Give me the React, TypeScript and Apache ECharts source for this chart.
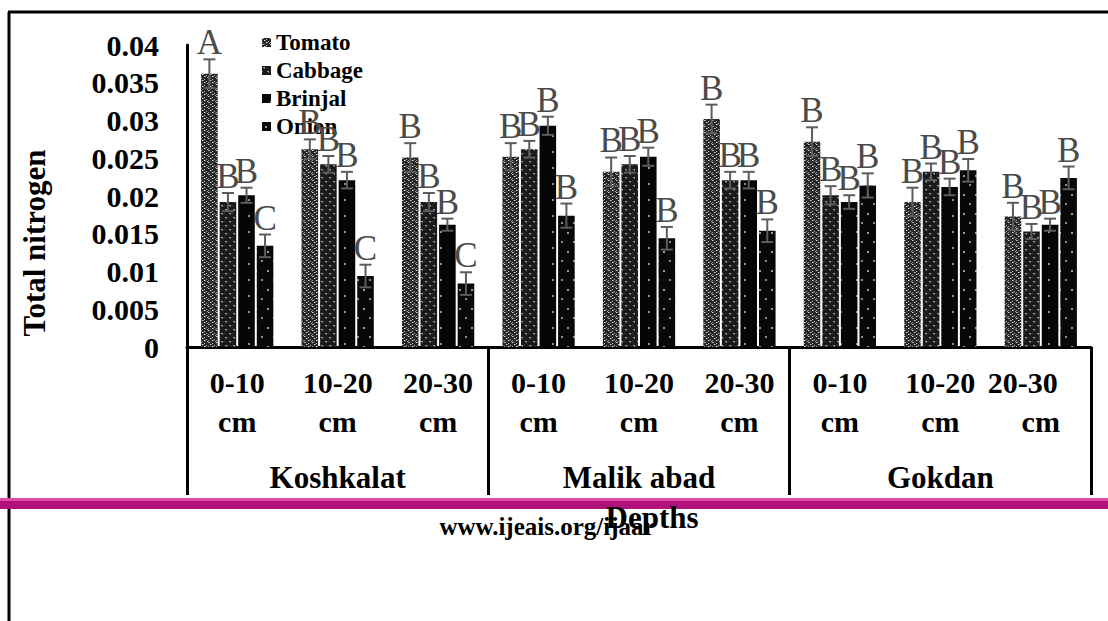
import React, { useEffect, useRef } from 'react';
import * as echarts from 'echarts';

const regions = ['Koshkalat', 'Malik abad', 'Gokdan'];
const depths = ['0-10 cm', '10-20 cm', '20-30 cm'];
const categories = regions.flatMap(() => depths);
const yTicks = [0, 0.005, 0.01, 0.015, 0.02, 0.025, 0.03, 0.035, 0.04];

const seriesNames = ['Tomato', 'Cabbage', 'Brinjal', 'Onion'];
const tomato = [0.0362, 0.0262, 0.0251, 0.0252, 0.0232, 0.0302, 0.0272, 0.0192, 0.0173];
const cabbage = [0.0192, 0.0242, 0.0192, 0.0262, 0.0242, 0.0221, 0.0201, 0.0232, 0.0153];
const brinjal = [0.0201, 0.0221, 0.0162, 0.0293, 0.0252, 0.0221, 0.0192, 0.0212, 0.0162];
const onion = [0.0134, 0.0094, 0.0084, 0.0174, 0.0144, 0.0154, 0.0214, 0.0234, 0.0224];
const tomatoErr = [0.0019, 0.0013, 0.0019, 0.0018, 0.0019, 0.0019, 0.0019, 0.0019, 0.0018];
const cabbageErr = [0.0012, 0.0011, 0.0012, 0.0011, 0.0011, 0.0011, 0.0012, 0.0011, 0.001];
const brinjalErr = [0.001, 0.0011, 0.0008, 0.0012, 0.0012, 0.0011, 0.0009, 0.0011, 0.0008];
const onionErr = [0.0015, 0.0015, 0.0015, 0.0016, 0.0015, 0.0015, 0.0016, 0.0015, 0.0015];
const tomatoLetters = ['A', 'B', 'B', 'B', 'B', 'B', 'B', 'B', 'B'];
const cabbageLetters = ['B', 'B', 'B', 'B', 'B', 'B', 'B', 'B', 'B'];
const brinjalLetters = ['B', 'B', 'B', 'B', 'B', 'B', 'B', 'B', 'B'];
const onionLetters = ['C', 'C', 'C', 'B', 'B', 'B', 'B', 'B', 'B'];

const SERIF = '"Liberation Serif", "Times New Roman", serif';
const BAR_W = 0.165;
const BAR_GAP = 0.12;

type Spot = [number, number, number, number, string];
function makePattern(w: number, h: number, bg: string, spots: Spot[]) {
  const c = document.createElement('canvas');
  c.width = w;
  c.height = h;
  const ctx = c.getContext('2d')!;
  ctx.fillStyle = bg;
  ctx.fillRect(0, 0, w, h);
  spots.forEach(([x, y, sw, sh, col]) => {
    ctx.fillStyle = col;
    ctx.fillRect(x, y, sw, sh);
  });
  return { image: c.toDataURL(), repeat: 'repeat', imageWidth: w, imageHeight: h } as any;
}

export default function App() {
  const ref = useRef<HTMLDivElement>(null);
  useEffect(() => {
    if (!ref.current) return;
    const chart = echarts.init(ref.current, undefined, { renderer: 'svg' });

    const fills = [
      makePattern(8, 6, '#262626', [
        [0, 0, 1, 1, '#d0d0d0'], [1, 0, 1, 1, '#8a8a8a'], [4, 1, 1, 1, '#bcbcbc'],
        [2, 2, 1, 1, '#e4e4e4'], [3, 2, 1, 1, '#7a7a7a'], [6, 3, 1, 1, '#b0b0b0'],
        [0, 4, 1, 1, '#9a9a9a'], [4, 4, 1, 1, '#eeeeee'], [5, 4, 1, 1, '#808080'],
        [7, 5, 1, 1, '#a4a4a4'], [2, 5, 1, 1, '#5a5a5a'],
      ]),
      makePattern(8, 8, '#1a1a1a', [
        [1, 1, 2, 1, '#9a9a9a'], [2, 2, 1, 1, '#707070'], [5, 5, 2, 1, '#a0a0a0'],
        [6, 6, 1, 1, '#747474'], [4, 1, 1, 1, '#3c3c3c'], [0, 5, 1, 1, '#3c3c3c'],
      ]),
      makePattern(16, 16, '#050505', [[8, 7, 2, 2, '#8c8c8c']]),
      makePattern(12, 19, '#080808', [[3, 4, 2, 2, '#9a9a9a'], [9, 13, 2, 2, '#8a8a8a']]),
    ];

    const values = [tomato, cabbage, brinjal, onion];
    const errs = [tomatoErr, cabbageErr, brinjalErr, onionErr];
    const letters = [tomatoLetters, cabbageLetters, brinjalLetters, onionLetters];

    const barSeries = seriesNames.map((name, si) => ({
      type: 'bar',
      name,
      data: values[si],
      barWidth: BAR_W * 100 + '%',
      barGap: BAR_GAP * 100 + '%',
      itemStyle: { color: fills[si] },
      emphasis: { disabled: true },
    }));

    const errSeries = seriesNames.map((name, si) => ({
      type: 'custom',
      name: name + ' error',
      z: 5,
      data: values[si].map((v, i) => [i, v, errs[si][i]]),
      renderItem: (params: any, api: any) => {
        const i = api.value(0);
        const v = api.value(1);
        const e = api.value(2);
        const band = api.size([1, 0])[0];
        const bw = band * BAR_W;
        const gap = bw * BAR_GAP;
        const off = (si - 1.5) * (bw + gap);
        const pTop = api.coord([i, v + e]);
        const pBot = api.coord([i, v - e]);
        const cx = pTop[0] + off;
        const half = 6;
        const ls = { stroke: '#5c5c5c', lineWidth: 2 };
        return {
          type: 'group',
          children: [
            { type: 'line', shape: { x1: cx, y1: pTop[1], x2: cx, y2: pBot[1] }, style: ls },
            { type: 'line', shape: { x1: cx - half, y1: pTop[1], x2: cx + half, y2: pTop[1] }, style: ls },
            { type: 'line', shape: { x1: cx - half, y1: pBot[1], x2: cx + half, y2: pBot[1] }, style: ls },
            {
              type: 'text',
              x: cx,
              y: pTop[1] + 1,
              style: {
                text: letters[si][params.dataIndex],
                fontSize: 35,
                fontFamily: SERIF,
                fill: '#4a4a4a',
                align: 'center',
                verticalAlign: 'bottom',
              },
            },
          ],
        };
      },
    }));

    const boldText = { fontFamily: SERIF, fontWeight: 'bold', color: '#000' };

    chart.setOption({
      animation: false,
      backgroundColor: '#fff',
      grid: { left: 187, right: 17, top: 45, bottom: 274, containLabel: false },
      legend: {
        data: seriesNames,
        orient: 'vertical',
        left: 257,
        top: 26,
        icon: 'rect',
        itemWidth: 9,
        itemHeight: 9,
        itemGap: 5,
        textStyle: { ...boldText, fontSize: 23, lineHeight: 23, padding: [0, 0, 0, 0] },
      },
      xAxis: [
        {
          type: 'category',
          data: categories,
          position: 'bottom',
          axisLine: { show: true, lineStyle: { color: '#000', width: 3 } },
          axisTick: { show: false },
          axisLabel: {
            ...boldText,
            interval: 0,
            fontSize: 30,
            lineHeight: 39,
            margin: 16,
            formatter: (val: string, idx: number) => {
              const [a, b] = val.split(' ');
              return idx === 8 ? `{s|${a}}\n${b}` : `${a}\n${b}`;
            },
            rich: {
              s: { ...boldText, fontSize: 30, lineHeight: 39, padding: [0, 36, 0, 0] },
            },
          },
        },
        {
          type: 'category',
          data: regions,
          position: 'bottom',
          axisLine: { show: false },
          axisTick: { show: true, length: 148, lineStyle: { color: '#000', width: 3 } },
          axisLabel: { ...boldText, fontSize: 31, lineHeight: 31, margin: 115 },
        },
      ],
      yAxis: {
        type: 'value',
        min: yTicks[0],
        max: yTicks[yTicks.length - 1],
        interval: yTicks[1] - yTicks[0],
        axisLine: { show: true, lineStyle: { color: '#000', width: 3 } },
        axisTick: { show: false },
        splitLine: { show: false },
        axisLabel: {
          ...boldText,
          fontSize: 30,
          margin: 28,
          formatter: (v: number) => String(+v.toFixed(3)),
        },
      },
      graphic: [
        { type: 'line', shape: { x1: 8, y1: 12, x2: 1108, y2: 12 }, style: { stroke: '#000', lineWidth: 3 }, z: 10 },
        { type: 'line', shape: { x1: 9, y1: 12, x2: 9, y2: 621 }, style: { stroke: '#000', lineWidth: 3 }, z: 10 },
        { type: 'rect', shape: { x: 0, y: 498, width: 1108, height: 3 }, style: { fill: '#e24aa4' }, z: 10 },
        { type: 'rect', shape: { x: 0, y: 501, width: 1108, height: 8 }, style: { fill: '#b0117a' }, z: 10 },
        {
          type: 'text', x: 34, y: 243, rotation: Math.PI / 2,
          style: { text: 'Total nitrogen', fontSize: 31, fontWeight: 'bold', fontFamily: SERIF, fill: '#000', align: 'center', verticalAlign: 'middle' },
        },
        {
          type: 'text', x: 547, y: 526, z: 11,
          style: { text: 'www.ijeais.org/ijaar', fontSize: 25, fontWeight: 'bold', fontFamily: SERIF, fill: '#000', align: 'center', verticalAlign: 'middle' },
        },
        {
          type: 'text', x: 652, y: 517, z: 12,
          style: { text: 'Depths', fontSize: 31, fontWeight: 'bold', fontFamily: SERIF, fill: '#000', align: 'center', verticalAlign: 'middle' },
        },
      ],
      series: [...barSeries, ...errSeries],
    });
    return () => chart.dispose();
  }, []);
  return (
    <div
      ref={ref}
      style={{ position: 'absolute', left: 0, top: 0, width: 1108, height: 621, background: '#fff' }}
    />
  );
}
